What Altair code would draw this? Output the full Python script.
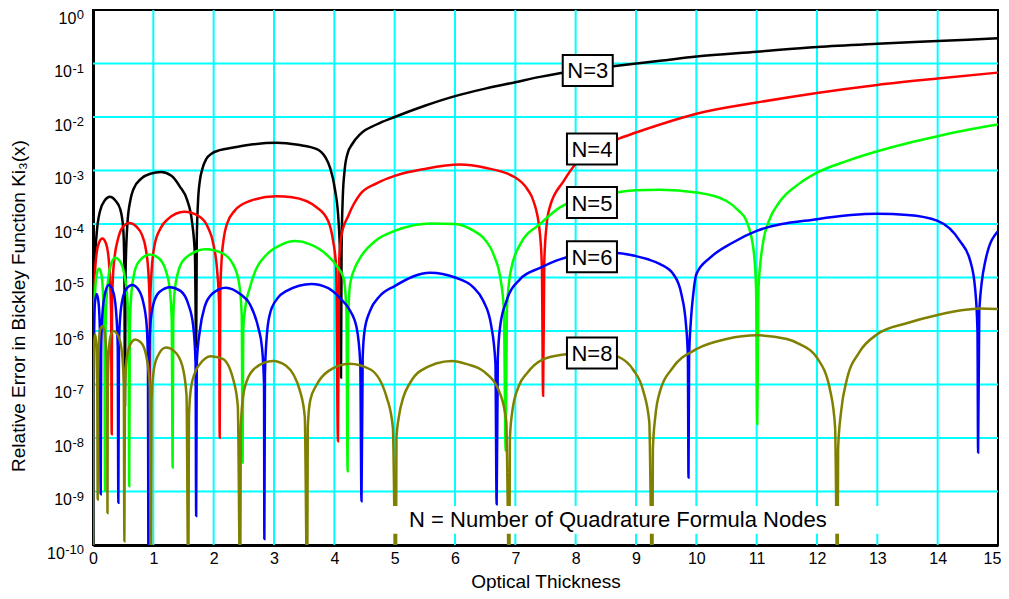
import altair as alt
import pandas as pd

FONT = "Liberation Sans, Arial, sans-serif"

# ---------------- data: (optical thickness, log10 relative error) ----------------
n3_points = [(0, -11), (0.02, -5.0), (0.06, -4.19), (0.116, -3.76), (0.2, -3.55), (0.28, -3.49), (0.37, -3.56),
             (0.45, -3.72), (0.50, -4.07), (0.52, -4.8), (0.53, -7.38),
             (0.54, -4.9), (0.57, -4.0), (0.62, -3.55), (0.67, -3.35), (0.8, -3.15), (0.95, -3.06), (1.13, -3.03),
             (1.3, -3.1), (1.44, -3.3), (1.56, -3.55), (1.64, -3.95), (1.69, -4.6), (1.71, -6.3),
             (1.72, -4.3), (1.74, -3.6), (1.77, -3.2), (1.81, -2.98), (1.88, -2.78), (1.97, -2.68), (2.1, -2.62),
             (2.33, -2.57), (2.65, -2.51), (3.04, -2.48), (3.4, -2.52), (3.71, -2.6), (3.85, -2.75), (3.93, -2.95),
             (4.01, -3.35), (4.07, -3.95), (4.10, -4.8), (4.11, -6.87),
             (4.12, -4.5), (4.14, -3.5), (4.17, -3.0), (4.22, -2.68), (4.3, -2.5), (4.43, -2.32), (4.7, -2.14),
             (5.0, -2.0), (5.5, -1.79), (6.0, -1.61), (6.5, -1.47), (7.0, -1.35), (7.41, -1.25), (8.0, -1.13),
             (8.62, -1.05), (9.4, -0.95), (10, -0.87), (11, -0.78), (12, -0.69), (13, -0.63), (14, -0.58), (15, -0.53)]

n4_points = [(0, -11), (0.01, -5.8), (0.03, -5.0), (0.06, -4.55), (0.1, -4.35), (0.155, -4.27), (0.21, -4.35),
             (0.25, -4.55), (0.28, -5.0), (0.30, -5.7), (0.31, -7.93),
             (0.315, -5.6), (0.33, -5.0), (0.36, -4.6), (0.41, -4.3), (0.48, -4.08), (0.6, -3.98), (0.72, -4.05),
             (0.81, -4.2), (0.88, -4.5), (0.92, -4.95), (0.94, -5.6), (0.945, -7.08),
             (0.95, -5.4), (0.97, -4.9), (1.02, -4.4), (1.12, -4.08), (1.25, -3.9), (1.51, -3.77), (1.75, -3.85),
             (1.9, -4.05), (2.0, -4.4), (2.06, -4.9), (2.09, -5.5), (2.1, -7.99),
             (2.11, -5.3), (2.13, -4.7), (2.17, -4.25), (2.22, -4.0), (2.35, -3.75), (2.6, -3.57), (3.04, -3.48),
             (3.3, -3.5), (3.71, -3.69), (3.9, -3.95), (3.98, -4.32), (4.03, -4.8), (4.06, -8.06),
             (4.08, -4.7), (4.12, -4.2), (4.23, -3.85), (4.43, -3.44), (4.7, -3.24), (5.0, -3.10), (5.5, -2.97),
             (6.08, -2.89), (6.5, -2.95), (7.0, -3.13), (7.2, -3.35), (7.3, -3.57), (7.4, -4.1), (7.44, -4.8), (7.46, -7.21),
             (7.48, -4.7), (7.52, -4.0), (7.57, -3.69), (7.8, -3.2), (8.02, -2.85), (8.3, -2.62), (8.68, -2.42),
             (9.0, -2.29), (9.4, -2.14), (10, -1.94), (11, -1.73), (12, -1.55), (13, -1.40), (14, -1.28), (15, -1.17)]

n5_points = [(0, -11), (0.01, -6.2), (0.03, -5.4), (0.06, -4.95), (0.1, -4.83), (0.14, -4.95), (0.17, -5.4),
             (0.19, -6.1), (0.20, -8.99),
             (0.205, -6.3), (0.22, -5.5), (0.25, -5.05), (0.3, -4.75), (0.365, -4.63), (0.45, -4.7), (0.52, -4.95),
             (0.57, -5.4), (0.59, -6.0), (0.60, -8.9),
             (0.61, -6.0), (0.63, -5.4), (0.67, -5.0), (0.75, -4.72), (0.945, -4.57), (1.1, -4.65), (1.2, -4.85),
             (1.27, -5.2), (1.305, -5.8), (1.32, -8.55),
             (1.33, -5.8), (1.35, -5.3), (1.41, -4.9), (1.52, -4.65), (1.87, -4.47), (2.15, -4.55), (2.32, -4.75),
             (2.42, -5.1), (2.465, -5.7), (2.48, -8.46),
             (2.49, -6.0), (2.52, -5.6), (2.6, -5.19), (2.7, -4.85), (2.88, -4.57), (3.1, -4.4), (3.35, -4.32),
             (3.6, -4.38), (3.87, -4.57), (4.05, -4.8), (4.15, -5.0), (4.2, -5.6), (4.22, -8.62),
             (4.23, -5.8), (4.26, -5.13), (4.33, -4.85), (4.43, -4.63), (4.7, -4.3), (5.0, -4.13), (5.61, -3.99),
             (6.0, -4.0), (6.3, -4.12), (6.47, -4.26), (6.65, -4.6), (6.75, -5.0), (6.81, -5.6), (6.84, -8.24),
             (6.86, -5.6), (6.92, -4.9), (7.08, -4.38), (7.41, -4.0), (7.74, -3.69), (8.0, -3.55), (8.68, -3.41),
             (9.0, -3.37), (9.4, -3.36), (10, -3.41), (10.5, -3.57), (10.7, -3.75), (10.83, -3.94), (10.95, -4.5),
             (10.99, -5.2), (11.01, -7.74),
             (11.03, -5.2), (11.11, -4.32), (11.2, -3.95), (11.39, -3.57), (11.7, -3.25), (12, -3.04), (12.5, -2.82),
             (13, -2.64), (13.5, -2.49), (14, -2.36), (14.5, -2.24), (15, -2.14)]

n6_points = [(0, -11), (0.01, -6.3), (0.03, -5.5), (0.06, -5.31), (0.09, -5.45), (0.115, -6.0), (0.128, -9.05),
             (0.135, -6.4), (0.15, -5.8), (0.19, -5.35), (0.26, -5.14), (0.33, -5.25), (0.38, -5.6), (0.41, -6.3), (0.42, -9.21),
             (0.43, -6.3), (0.45, -5.75), (0.5, -5.35), (0.56, -5.2), (0.65, -5.14), (0.75, -5.22), (0.83, -5.45),
             (0.89, -5.9), (0.91, -6.5), (0.92, -11),
             (0.93, -6.6), (0.95, -5.9), (1.0, -5.5), (1.1, -5.27), (1.28, -5.18), (1.45, -5.25), (1.58, -5.5),
             (1.66, -5.9), (1.70, -6.6), (1.71, -9.46),
             (1.72, -6.6), (1.77, -6.0), (1.85, -5.55), (1.98, -5.3), (2.2, -5.19), (2.44, -5.31), (2.6, -5.5),
             (2.74, -5.94), (2.8, -6.3), (2.835, -7.0), (2.84, -9.89),
             (2.85, -6.8), (2.88, -6.1), (2.93, -5.69), (3.05, -5.4), (3.21, -5.25), (3.62, -5.12), (3.9, -5.2),
             (4.09, -5.38), (4.25, -5.6), (4.37, -5.94), (4.43, -6.6), (4.45, -9.18),
             (4.47, -6.5), (4.5, -6.0), (4.59, -5.63), (4.75, -5.35), (5.0, -5.16), (5.59, -4.91), (6.0, -5.0),
             (6.3, -5.18), (6.47, -5.44), (6.6, -5.9), (6.67, -6.6), (6.69, -9.24),
             (6.71, -6.5), (6.75, -5.9), (6.85, -5.45), (7.08, -5.03), (7.41, -4.82), (7.74, -4.66), (8.2, -4.55),
             (8.68, -4.54), (9.0, -4.6), (9.2, -4.66), (9.4, -4.75), (9.62, -4.94), (9.75, -5.3), (9.83, -5.9),
             (9.86, -6.5), (9.87, -8.74),
             (9.88, -6.5), (9.91, -5.8), (9.95, -5.3), (10.0, -4.94), (10.23, -4.63), (10.6, -4.35), (11, -4.13),
             (12, -3.91), (13, -3.81), (13.5, -3.83), (14, -3.94), (14.37, -4.32), (14.54, -4.69), (14.62, -5.2),
             (14.66, -6.0), (14.67, -8.27),
             (14.69, -5.6), (14.79, -4.69), (15, -4.13)]

n8_points = [(0, -11), (0.005, -7.0), (0.015, -6.3), (0.035, -6.06), (0.055, -6.25), (0.07, -6.9), (0.078, -9.15),
             (0.083, -7.0), (0.095, -6.3), (0.12, -5.97), (0.155, -5.91), (0.19, -6.0), (0.22, -6.35), (0.235, -7.0), (0.24, -9.40),
             (0.245, -7.1), (0.26, -6.45), (0.29, -6.1), (0.34, -6.0), (0.42, -6.1), (0.48, -6.4), (0.51, -7.0), (0.52, -9.93),
             (0.53, -7.1), (0.55, -6.6), (0.6, -6.3), (0.70, -6.16), (0.8, -6.22), (0.88, -6.45), (0.94, -7.0), (0.96, -11),
             (0.97, -7.3), (1.0, -6.8), (1.06, -6.5), (1.21, -6.31), (1.35, -6.38), (1.48, -6.65), (1.55, -7.2), (1.58, -11),
             (1.59, -7.6), (1.62, -7.1), (1.7, -6.75), (1.77, -6.62), (1.95, -6.47), (2.15, -6.52), (2.33, -6.93),
             (2.4, -7.4), (2.44, -11),
             (2.45, -7.8), (2.48, -7.3), (2.55, -6.93), (2.7, -6.68), (2.98, -6.56), (3.2, -6.65), (3.43, -7.12),
             (3.51, -7.6), (3.55, -11),
             (3.56, -7.8), (3.6, -7.3), (3.71, -7.0), (3.9, -6.75), (4.25, -6.61), (4.6, -6.72), (4.87, -7.25),
             (4.97, -7.8), (5.02, -11),
             (5.03, -8.0), (5.07, -7.6), (5.14, -7.25), (5.25, -6.98), (5.42, -6.75), (5.95, -6.56), (6.2, -6.62),
             (6.47, -6.75), (6.75, -7.18), (6.85, -7.7), (6.90, -11),
             (6.91, -8.0), (6.95, -7.5), (7.05, -7.05), (7.2, -6.78), (7.46, -6.53), (7.8, -6.44), (8.2, -6.41),
             (8.5, -6.43), (8.74, -6.5), (8.95, -6.72), (9.12, -7.12), (9.22, -7.7), (9.27, -11),
             (9.28, -8.2), (9.32, -7.6), (9.40, -7.12), (9.6, -6.7), (10, -6.34), (10.5, -6.15), (11, -6.08),
             (11.5, -6.15), (11.72, -6.25), (12, -6.5), (12.22, -7.12), (12.3, -7.8), (12.34, -11),
             (12.35, -8.2), (12.4, -7.5), (12.49, -6.93), (12.7, -6.4), (13, -6.06), (13.5, -5.85), (14, -5.7),
             (14.5, -5.6), (14.7, -5.58), (15, -5.59)]

series_names = ["N=3", "N=4", "N=5", "N=6", "N=8"]
series_colors = ["#000000", "#FF0000", "#00FF00", "#0000FF", "#808000"]
series_points = [n3_points, n4_points, n5_points, n6_points, n8_points]

label_text = ["N=3", "N=4", "N=5", "N=6", "N=8"]
label_x = [8.2, 8.27, 8.27, 8.27, 8.27]
label_logy = [-1.13, -2.60, -3.60, -4.61, -6.41]

note_text = ["N = Number of Quadrature Formula Nodes"]
note_x = [8.70]
note_logy = [-9.53]
note_box_x = [4.09, 13.05]
note_box_logy = [-9.79, -9.27]

x_ticks = list(range(0, 16))
x_grid = list(range(1, 15))
y_exps = list(range(0, -11, -1))
y_grid_exps = list(range(-1, -10, -1))

PX_PER_X = 905 / 15.0

# ---------------- scales / axes ----------------
xs = alt.Scale(domain=[0, 15], nice=False, zero=False)
ys = alt.Scale(type="log", domain=[1e-10, 1], nice=False)

ax_x = alt.Axis(values=x_ticks, grid=False, ticks=False, domainColor="black", domainWidth=3,
                labelFontSize=16, labelColor="black", labelFont=FONT, labelPadding=5, labelFlush=False,
                labelOffset={"condition": {"test": "datum.value == 15", "value": -6}, "value": 0},
                title="Optical Thickness", titleFont=FONT, titleFontSize=19, titleFontWeight="normal",
                titleColor="black", titlePadding=6)
ax_y = alt.Axis(values=[10.0 ** e for e in y_exps], grid=False, ticks=False, labels=False,
                domainColor="black", domainWidth=3, title=None)


def X(f):
    return alt.X(f, type="quantitative", scale=xs, axis=ax_x)


def Y(f):
    return alt.Y(f, type="quantitative", scale=ys, axis=ax_y)


# grid
grid_v = alt.Chart(pd.DataFrame({"x": x_grid})).mark_rule(color="#00FFFF", strokeWidth=2).encode(x=X("x"))
grid_h = alt.Chart(pd.DataFrame({"y": [10.0 ** e for e in y_grid_exps]})).mark_rule(
    color="#00FFFF", strokeWidth=2).encode(y=Y("y"))

layers = [grid_v, grid_h]

for name, col, pts in zip(series_names, series_colors, series_points):
    df = pd.DataFrame({"x": [p[0] for p in pts], "y": [10.0 ** p[1] for p in pts]})
    layers.append(
        alt.Chart(df).mark_line(color=col, strokeWidth=2.5, interpolate="monotone", clip=True)
        .encode(x=X("x"), y=Y("y"), order="x:Q")
    )

# annotation box + text
box_df = pd.DataFrame({"x": [note_box_x[0]], "x2": [note_box_x[1]],
                       "y": [10.0 ** note_box_logy[0]], "y2": [10.0 ** note_box_logy[1]]})
layers.append(alt.Chart(box_df).mark_rect(color="white").encode(x=X("x"), x2="x2", y=Y("y"), y2="y2"))
note_df = pd.DataFrame({"x": note_x, "y": [10.0 ** v for v in note_logy], "t": note_text})
layers.append(alt.Chart(note_df).mark_text(font=FONT, fontSize=22, color="black", baseline="middle")
              .encode(x=X("x"), y=Y("y"), text="t:N"))

# series label boxes
lab_df = pd.DataFrame({"x": label_x, "y": [10.0 ** v for v in label_logy], "t": label_text})
layers.append(alt.Chart(lab_df).mark_rect(width=50, height=31, fill="white", stroke="black", strokeWidth=2)
              .encode(x=X("x"), y=Y("y")))
layers.append(alt.Chart(lab_df).mark_text(font=FONT, fontSize=22, color="black", baseline="middle", dy=1)
              .encode(x=X("x"), y=Y("y"), text="t:N"))

# y tick labels: "10" with a superscript exponent
ylab = alt.Chart(pd.DataFrame({"e": y_exps})).transform_calculate(
    v="pow(10, datum.e)",
    es="toString(datum.e)",
    ew="datum.e == 0 ? 7.2 : (length(toString(datum.e)) - 1) * 7.2 + 4.3",
)
exp_layer = ylab.transform_calculate(ex=f"-9 / {PX_PER_X}").mark_text(
    font=FONT, fontSize=13, color="black", align="right", baseline="middle", dy=5
).encode(x=X("ex:Q"), y=Y("v:Q"), text="es:N")
base_layer = ylab.transform_calculate(bx=f"(-9.5 - datum.ew) / {PX_PER_X}").mark_text(
    font=FONT, fontSize=16, color="black", align="right", baseline="middle", dy=8.5, text="10"
).encode(x=X("bx:Q"), y=Y("v:Q"))
layers += [exp_layer, base_layer]

# y axis title
ytitle = alt.Chart(pd.DataFrame({"t": ["Relative Error in Bickley Function Ki\u2083(x)"]})).mark_text(
    font=FONT, fontSize=19, color="black", angle=270, align="center", baseline="middle"
).encode(x=alt.value(-74), y=alt.value(296), text="t:N")
layers.append(ytitle)

chart = alt.layer(*layers).properties(
    width=905, height=535,
    autosize=alt.AutoSizeParams(type="none"),
    padding={"left": 85, "top": 2, "right": 3, "bottom": 46},
).configure_view(stroke="black", strokeWidth=2)

chart.save("out.html", embed_options={"renderer": "svg", "actions": False})
